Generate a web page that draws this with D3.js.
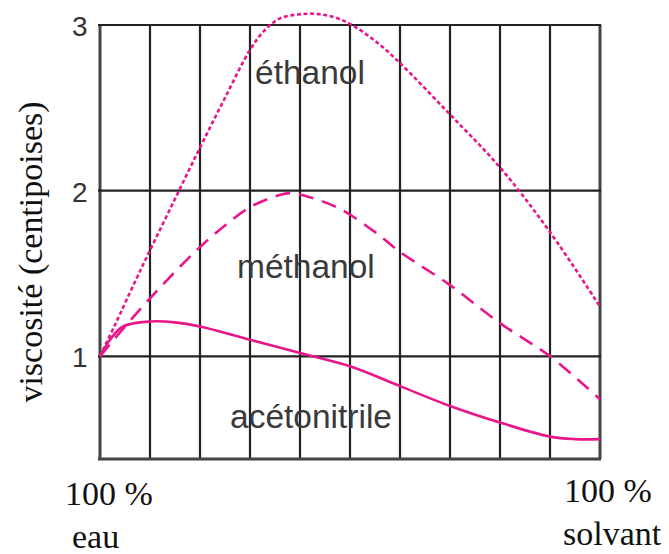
<!DOCTYPE html>
<html>
<head>
<meta charset="utf-8">
<script src="https://cdn.jsdelivr.net/npm/d3@7"></script>
<style>
  html, body { margin: 0; padding: 0; background: #fff; }
  svg { display: block; }
</style>
</head>
<body>
<svg id="chart" width="669" height="554"></svg>
<script>
// Viscosity of water / organic solvent mixtures (centipoises)
// x: share of solvent in the mixture, from 100 % water (0) to 100 % solvent (100)
const xGrid = [0, 10, 20, 30, 40, 50, 60, 70, 80, 90, 100];
const yTicks = [1, 2, 3];
const yBottom = 0.38;

const ethanolX = [0, 3, 7, 10, 15, 20, 25, 30, 33, 36, 40, 44, 48, 52, 56, 60, 70, 80, 90, 100];
const ethanolY = [1.0, 1.19, 1.45, 1.64, 1.95, 2.26, 2.56, 2.85, 2.97, 3.04, 3.065, 3.065, 3.035, 2.97, 2.88, 2.77, 2.46, 2.14, 1.75, 1.30];

const methanolX = [0, 5, 10, 15, 20, 25, 30, 35, 38, 42, 48, 55, 60, 70, 80, 90, 100];
const methanolY = [1.0, 1.18, 1.35, 1.51, 1.66, 1.79, 1.90, 1.965, 1.985, 1.96, 1.89, 1.75, 1.63, 1.43, 1.20, 1.0, 0.74];

const acetonitrileX = [0, 2, 4.6, 10, 15, 20, 30, 40, 50, 60, 70, 80, 90, 95, 100];
const acetonitrileY = [1.0, 1.10, 1.18, 1.21, 1.205, 1.18, 1.10, 1.02, 0.94, 0.82, 0.70, 0.60, 0.515, 0.50, 0.50];

const seriesNames = ["éthanol", "méthanol", "acétonitrile"];

const svg = d3.select("#chart");
const pink = "#e8168b";

const x = d3.scaleLinear().domain([0, 100]).range([100, 600]);
const y = d3.scaleLinear().domain([yBottom, 3]).range([459, 25]);

// grid
const grid = svg.append("g");
grid.selectAll("line.v").data(xGrid).join("line")
  .attr("class", "v")
  .attr("x1", d => x(d)).attr("x2", d => x(d))
  .attr("y1", y(3)).attr("y2", y(yBottom))
  .attr("stroke", (d, i) => (i === 0 || i === xGrid.length - 1) ? "#444" : "#222")
  .attr("stroke-width", (d, i) => (i === 0 || i === xGrid.length - 1) ? 3 : 2.2);
grid.selectAll("line.h").data(yTicks.concat([yBottom])).join("line")
  .attr("class", "h")
  .attr("x1", x(0) - 2).attr("x2", x(100) + 1)
  .attr("y1", d => y(d)).attr("y2", d => y(d))
  .attr("stroke", d => d === yBottom ? "#444" : "#222")
  .attr("stroke-width", d => d === yBottom ? 3 : 2.2);

// tick labels
svg.append("g").selectAll("text").data(yTicks).join("text")
  .attr("x", 72)
  .attr("y", d => y(d) + 11)
  .attr("font-family", "Liberation Sans, Arial, sans-serif")
  .attr("font-size", 28)
  .attr("fill", "#333")
  .text(d => d);

// curves
const line = d3.line()
  .x(d => x(d[0]))
  .y(d => y(d[1]))
  .curve(d3.curveCatmullRom.alpha(0.5));

const curves = [
  { xs: ethanolX, ys: ethanolY, dash: "4 2.6" },
  { xs: methanolX, ys: methanolY, dash: "15 9" },
  { xs: acetonitrileX, ys: acetonitrileY, dash: null }
];
svg.append("g").selectAll("path").data(curves).join("path")
  .attr("d", c => line(d3.zip(c.xs, c.ys)))
  .attr("fill", "none")
  .attr("stroke", pink)
  .attr("stroke-width", 2.6)
  .attr("stroke-dasharray", c => c.dash);

// curve names
const namePos = [
  { x: 255, y: 84 },
  { x: 237, y: 278 },
  { x: 230, y: 428 }
];
svg.append("g").selectAll("text").data(seriesNames).join("text")
  .attr("x", (d, i) => namePos[i].x)
  .attr("y", (d, i) => namePos[i].y)
  .attr("font-family", "Liberation Sans, Arial, sans-serif")
  .attr("font-size", 33.5)
  .attr("fill", "#3a3a3a")
  .text(d => d);

// axis titles
const serif = "Liberation Serif, Times New Roman, serif";
svg.append("text")
  .attr("transform", "translate(42,252) rotate(-90)")
  .attr("text-anchor", "middle")
  .attr("font-family", serif)
  .attr("font-size", 34)
  .attr("fill", "#111")
  .text("viscosité (centipoises)");

const bottomLabels = [
  { t: "100 %", x: 65, y: 505 },
  { t: "eau", x: 72, y: 548 },
  { t: "100 %", x: 564, y: 502 },
  { t: "solvant", x: 563, y: 545 }
];
svg.append("g").selectAll("text").data(bottomLabels).join("text")
  .attr("x", d => d.x).attr("y", d => d.y)
  .attr("font-family", serif)
  .attr("font-size", 34)
  .attr("fill", "#111")
  .text(d => d.t);
</script>
</body>
</html>
